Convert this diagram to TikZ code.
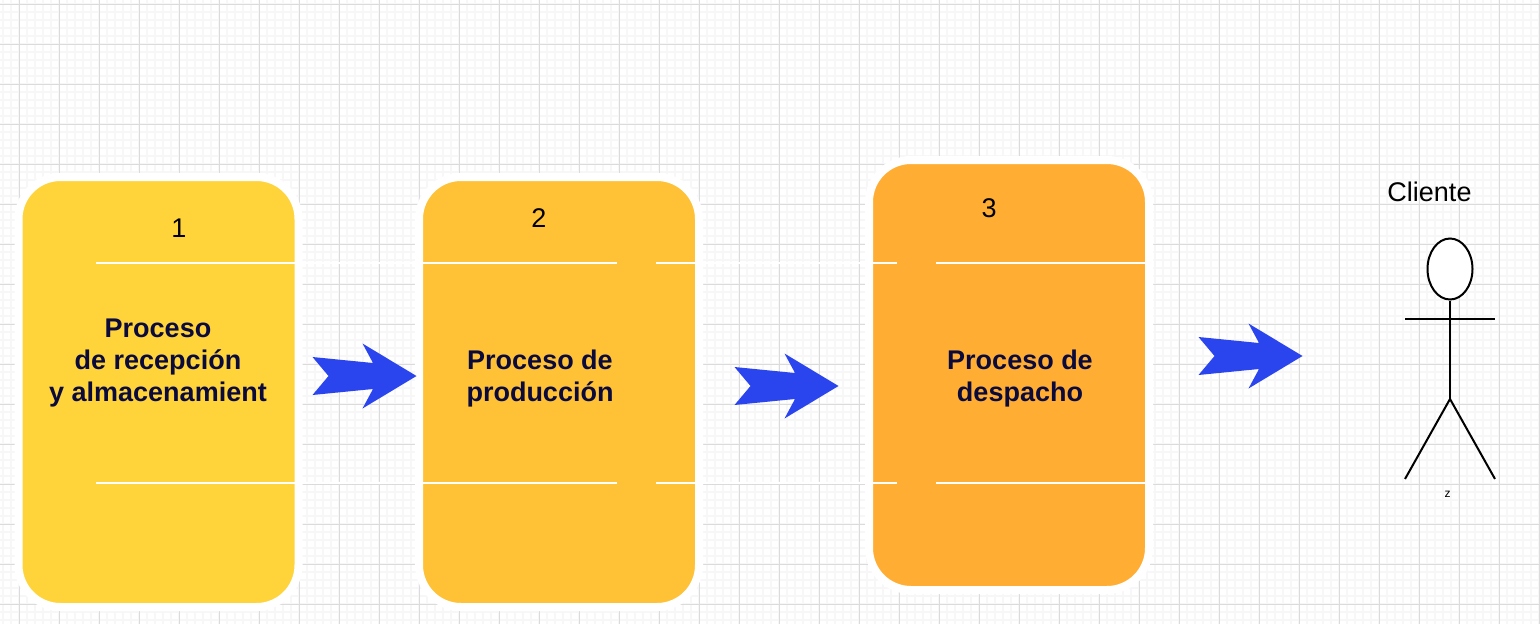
\documentclass[tikz,border=0pt]{standalone}
\usepackage{fontspec}
\setmainfont{Liberation Sans}
\usetikzlibrary{shapes.geometric}
\definecolor{amarillo}{HTML}{FFD43B}
\definecolor{ambar}{HTML}{FFC135}
\definecolor{naranja}{HTML}{FFAE33}
\definecolor{azul}{HTML}{2B45EE}
\definecolor{tinta}{HTML}{0A0A3C}
\tikzset{
	proceso/.style={draw=white,line width=8pt,rounded corners=42pt,minimum width=280pt,minimum height=430pt,inner sep=0pt},
	titulo/.style={font=\fontsize{27}{32}\selectfont\bfseries,text=tinta,align=center},
	numero/.style={font=\fontsize{27}{32}\selectfont},
	flecha/.pic={
			\fill[azul] (-104,-19) -- (-88,0) -- (-104,19) -- (-43.5,13) -- (-54,32.5) -- (0,0) -- (-54,-32.5) -- (-43.5,-13) -- cycle;
		},
	trazo/.style={line width=2pt,black}
}
\begin{document}
\begin{tikzpicture}[x=1pt,y=-1pt]
	\useasboundingbox (0,0) rectangle (1540,624);
	\fill[white] (0,0) rectangle (1540,624);
	% grid
	\foreach \x in {3,11,...,1539}
	\draw[line width=1.6pt,black!3] (\x,0) -- (\x,624);
	\foreach \y in {4,12,...,620}
	\draw[line width=1.6pt,black!3] (0,\y) -- (1540,\y);
	\foreach \x in {19,59,...,1539}
	\draw[line width=1pt,black!14] (\x,0) -- (\x,624);
	\foreach \y in {4,44,...,604}
	\draw[line width=1pt,black!14] (0,\y) -- (1540,\y);
	% processes
	\node[proceso,fill=amarillo] (p1) at (158.5,392) {};
	\node[proceso,fill=ambar] (p2) at (559,392) {};
	\node[proceso,fill=naranja] (p3) at (1009,375) {};
	\node[numero] (n1) at (179,228) {1};
	\node[numero] (n2) at (539,218) {2};
	\node[numero] (n3) at (989,208) {3};
	\node[titulo] (t1) at (158,363) {Proceso\\de recepción\\y almacenamient};
	\node[titulo] (t2) at (540,379) {Proceso de\\producción};
	\node[titulo] (t3) at (1020,379) {Proceso de\\despacho};
	% lane lines
	\foreach \y in {263,483} {
			\draw[white,line width=2pt] (96,\y) -- (617,\y);
			\draw[white,line width=2pt] (656,\y) -- (897,\y);
			\draw[white,line width=2pt] (936,\y) -- (1145,\y);
		}
	% arrows
	\pic at (416.5,376) {flecha};
	\pic at (838.5,386) {flecha};
	\pic at (1302.5,356) {flecha};
	% client
	\node[font=\fontsize{27}{32}\selectfont] (cliente) at (1429.5,192) {Cliente};
	\node[draw,trazo,fill=white,ellipse,minimum width=45pt,minimum height=61pt,inner sep=0pt] (cabeza) at (1450,269) {};
	\coordinate (cadera) at (1450,399);
	\coordinate (brazoi) at (1405,319);
	\coordinate (brazod) at (1495,319);
	\coordinate (piei) at (1405,479);
	\coordinate (pied) at (1495,479);
	\draw[trazo] (cabeza.south) -- (cadera);
	\draw[trazo] (brazoi) -- (brazod);
	\draw[trazo] (piei) -- (cadera) -- (pied);
	\node[font=\fontsize{12}{14}\selectfont] (zeta) at (1447.5,494) {z};
\end{tikzpicture}
\end{document}
